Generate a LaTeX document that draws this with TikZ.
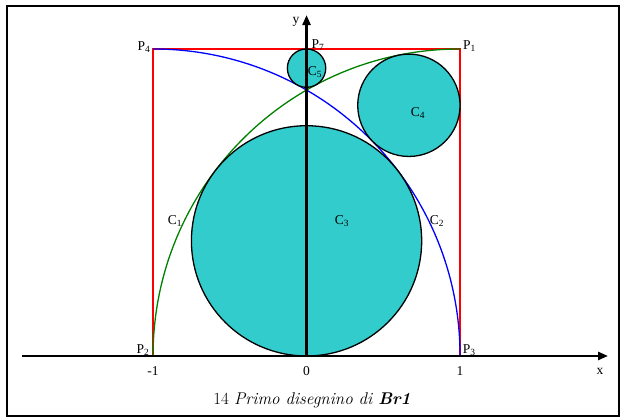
\documentclass[tikz,border=0pt]{standalone}
\usepackage{fontspec}
\newfontfamily\labelfont{Liberation Serif}
\usetikzlibrary{arrows.meta}
\definecolor{brcyan}{RGB}{51,204,204}
\definecolor{brgreen}{RGB}{0,128,0}

\begin{document}
\begin{tikzpicture}[x=153.5pt, y=153.5pt,
    lbl/.style={font=\labelfont\fontsize{13.5}{14}\selectfont, inner sep=0pt},
    disc/.style={draw=black, fill=brcyan, line width=1.3pt},
    arcline/.style={line width=1.3pt},
    axisline/.style={line width=2.4pt, -{Triangle[length=10pt, width=8pt]}}
  ]
    \useasboundingbox (-1.997,-0.404) rectangle (2.068,2.319);
    % --- frame ---
    \draw[line width=1.8pt] (-1.951,-0.391) rectangle (2.036,2.280);

    % --- square and arcs ---
    \draw[red, line width=1.4pt] (-1,0) rectangle (1,2);
    \draw[arcline, blue] (-1,2) arc[start angle=90, end angle=0, radius=2];
    \draw[arcline, brgreen] (-1,0) arc[start angle=180, end angle=90, radius=2];

    % --- circles ---
    \draw[disc] (0,0.75) circle[radius=0.75];
    \draw[disc] (0,1.875) circle[radius=0.125];
    \draw[disc] (0.6667,1.633) circle[radius=0.3333];

    % --- axes ---
    \coordinate (xmin) at (-1.853,0);
    \coordinate (xmax) at (1.964,0);
    \coordinate (orig) at (0,0);
    \coordinate (ymax) at (0,2.221);
    \draw[axisline] (xmin) -- (xmax);
    \draw[axisline] (orig) -- (ymax);

    % --- labels ---
    \node[lbl] (ly) at (-0.068,2.176) {y};
    \node[lbl] (lx) at (1.912,-0.098) {x};
    \node[lbl] (p4) at (-1.059,2.013) {P\textsubscript{4}};
    \node[lbl] (p7) at (0.075,2.026) {P\textsubscript{7}};
    \node[lbl] (p1) at (1.062,2.020) {P\textsubscript{1}};
    \node[lbl] (p2) at (-1.065,0.039) {P\textsubscript{2}};
    \node[lbl] (p3) at (1.059,0.039) {P\textsubscript{3}};
    \node[lbl] (tm1) at (-1,-0.098) {-1};
    \node[lbl] (t0) at (0,-0.098) {0};
    \node[lbl] (t1) at (1,-0.098) {1};
    \node[lbl] (c1) at (-0.857,0.879) {C\textsubscript{1}};
    \node[lbl] (c2) at (0.850,0.879) {C\textsubscript{2}};
    \node[lbl] (c3) at (0.231,0.879) {C\textsubscript{3}};
    \node[lbl] (c4) at (0.726,1.583) {C\textsubscript{4}};
    \node[lbl] (c5) at (0.055,1.850) {C\textsubscript{5}};

    % --- caption ---
    \node[font=\fontsize{17}{19}\selectfont] (capt) at (0.036,-0.287)
      {14 \textit{Primo disegnino di \textbf{Br1}}};
\end{tikzpicture}
\end{document}
